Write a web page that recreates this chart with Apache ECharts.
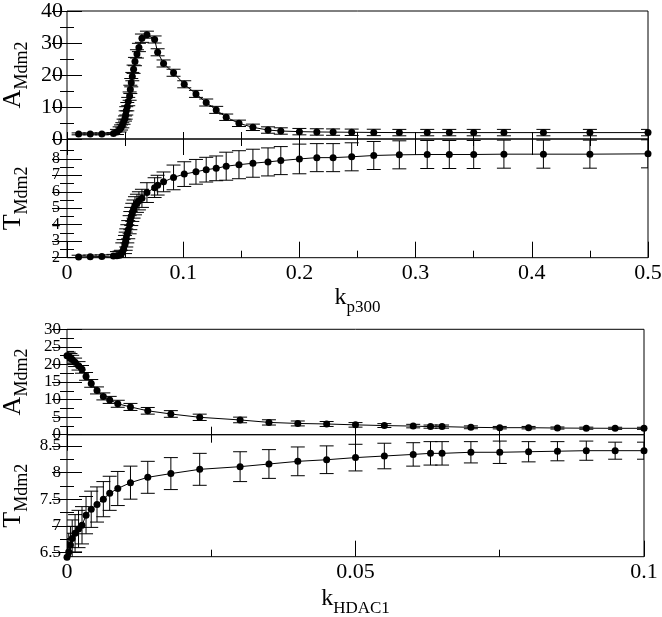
<!DOCTYPE html>
<html><head><meta charset="utf-8">
<script src="https://cdn.jsdelivr.net/npm/echarts@6/dist/echarts.min.js"></script>
<style>html,body{margin:0;padding:0;background:#fff}#c{width:662px;height:617px}</style>
</head><body><div id="c"></div>
<script>
// ---------- data: top pair (k_p300) ----------
const kP300 = [0.01,0.02,0.03,0.04,0.043,0.0453,0.0465,0.0476,0.0487,0.0499,0.0505,0.051,0.0519,0.0527,0.0539,0.0545,0.0553,0.0562,0.0573,0.0585,0.0602,0.0619,0.0645,0.0688,0.0754,0.078,0.0831,0.0917,0.1009,0.111,0.1198,0.1284,0.137,0.148,0.16,0.173,0.184,0.2,0.215,0.229,0.245,0.264,0.286,0.31,0.329,0.35,0.376,0.41,0.45,0.5];
const aMdm2P300 = [1.6,1.6,1.6,1.7,2.2,3.0,3.6,4.3,5.4,6.4,7.5,8.8,10.1,11.7,13.4,15.5,17.6,19.5,21.8,24.2,26.6,28.6,31.5,32.6,31.1,27.1,23.6,20.7,17.1,14.1,11.4,9.1,6.8,4.9,3.65,2.8,2.5,2.3,2.2,2.15,2.1,2.05,2.0,2.0,2.0,2.0,2.0,2.0,2.0,2.0];
const aMdm2P300Err = [0.3,0.3,0.3,0.3,0.8,0.8,0.8,0.8,0.8,0.8,1.3,1.3,1.3,1.3,1.3,1.3,1.3,1.3,1.3,1.3,1.3,1.3,1.3,1.1,1.1,1.1,1.1,1.1,1.1,1.1,1.1,1.1,1.0,1.0,1.0,1.0,1.0,1.0,1.0,1.0,1.0,1.0,1.0,1.0,1.0,1.0,1.0,1.0,1.0,1.0];
const tMdm2P300 = [2.05,2.06,2.07,2.1,2.12,2.15,2.2,2.35,2.55,2.8,3.0,3.2,3.45,3.7,4.0,4.25,4.5,4.75,4.95,5.15,5.3,5.45,5.6,5.95,6.25,6.4,6.6,6.87,7.07,7.21,7.34,7.42,7.55,7.64,7.73,7.81,7.89,7.99,8.07,8.07,8.12,8.2,8.24,8.26,8.26,8.26,8.28,8.28,8.28,8.3];
const tMdm2P300Err = [0.1,0.1,0.1,0.1,0.25,0.25,0.25,0.55,0.55,0.55,0.55,0.55,0.55,0.55,0.55,0.55,0.55,0.55,0.55,0.55,0.55,0.55,0.55,0.6,0.6,0.6,0.6,0.75,0.75,0.75,0.75,0.75,0.85,0.85,0.85,0.85,0.85,0.9,0.85,0.85,0.85,0.85,0.85,0.85,0.85,0.85,0.85,0.85,0.85,0.85];

// ---------- data: bottom pair (k_HDAC1) ----------
const kHDAC1 = [0,0.0003,0.0006,0.0009,0.0014,0.002,0.0026,0.0033,0.0042,0.0052,0.0063,0.0074,0.0088,0.011,0.014,0.018,0.023,0.03,0.035,0.04,0.045,0.05,0.055,0.06,0.063,0.065,0.07,0.075,0.08,0.085,0.09,0.095,0.1];
const aMdm2HDAC1 = [22.5,22.3,21.9,21.4,20.6,19.6,18.6,16.6,14.6,12.6,10.9,9.9,8.8,7.9,6.8,5.9,4.95,4.2,3.5,3.2,3.05,2.8,2.6,2.45,2.3,2.3,2.1,2.0,2.0,1.9,1.85,1.82,1.82];
const aMdm2HDAC1Err = [1.2,1.2,1.2,1.2,1.2,1.2,1.1,1.1,1.1,1.0,1.0,1.0,1.0,1.0,0.95,0.95,0.9,0.8,0.75,0.7,0.7,0.65,0.55,0.5,0.45,0.45,0.4,0.35,0.35,0.3,0.3,0.3,0.3];
const tMdm2HDAC1 = [6.41,6.51,6.64,6.76,6.86,6.94,7.01,7.2,7.31,7.4,7.5,7.61,7.7,7.81,7.91,7.98,8.06,8.11,8.16,8.21,8.24,8.28,8.31,8.34,8.36,8.36,8.38,8.38,8.39,8.4,8.41,8.41,8.41];
const tMdm2HDAC1Err = [0.35,0.35,0.35,0.35,0.35,0.35,0.35,0.35,0.34,0.33,0.33,0.32,0.32,0.31,0.3,0.3,0.3,0.28,0.27,0.27,0.26,0.25,0.24,0.22,0.22,0.22,0.2,0.21,0.19,0.18,0.18,0.16,0.16];

// ---------- tick values ----------
const xTicksP300 = [0,0.1,0.2,0.3,0.4,0.5];
const xMinorP300 = [0.05,0.15,0.25,0.35,0.45];
const xTicksHDAC1 = [0,0.05,0.1];
const xMinorHDAC1 = [0.025,0.075];
const yTicksA1 = [0,10,20,30,40];
const yMinorA1 = [5,15,25,35];
const yTicksT1 = [2,3,4,5,6,7,8];
const yMinorT1 = [2.5,3.5,4.5,5.5,6.5,7.5,8.5];
const yTicksA2 = [0,5,10,15,20,25,30];
const yMinorA2 = [2.5,7.5,12.5,17.5,22.5,27.5];
const yTicksT2 = [6.5,7,7.5,8,8.5];
const yMinorT2 = [6.75,7.25,7.75,8.25];

const SERIF = '"Liberation Serif", "Times New Roman", serif';
const INK = '#000';

const panels = [
  {grid:{left:67,top:11,width:581,height:128}, x:[0,0.5], y:[0,40], xt:xTicksP300, xm:xMinorP300, yt:yTicksA1, ym:yMinorA1,
   xMajLen:7, xMinLen:7, xLabels:false, yFont:22, yMargin:4, yName:'{a|A}{s|Mdm2}', xs:kP300, vs:aMdm2P300, es:aMdm2P300Err},
  {grid:{left:67,top:139,width:581,height:118.7}, x:[0,0.5], y:[2,9.2], xt:xTicksP300, xm:xMinorP300, yt:yTicksT1, ym:yMinorT1,
   xMajLen:16, xMinLen:7, xLabels:true, yFont:16, yMargin:7, yName:'{a|T}{s|Mdm2}', xName:'{k|k}{s|p300}', xGap:28, xs:kP300, vs:tMdm2P300, es:tMdm2P300Err},
  {grid:{left:67,top:329.3,width:577,height:105.4}, x:[0,0.1], y:[0,30], xt:xTicksHDAC1, xm:xMinorHDAC1, yt:yTicksA2, ym:yMinorA2,
   xMajLen:8, xMinLen:8, xLabels:false, yFont:17, yMargin:6, yName:'{a|A}{s|Mdm2}', xs:kHDAC1, vs:aMdm2HDAC1, es:aMdm2HDAC1Err},
  {grid:{left:67,top:434.7,width:577,height:122}, x:[0,0.1], y:[6.42,8.71], xt:xTicksHDAC1, xm:xMinorHDAC1, yt:yTicksT2, ym:yMinorT2,
   xMajLen:16, xMinLen:7, xLabels:true, yFont:17, yMargin:6, yName:'{a|T}{s|Mdm2}', xName:'{k|k}{s|HDAC1}', xGap:30, xs:kHDAC1, vs:tMdm2HDAC1, es:tMdm2HDAC1Err}
];

const tickStyle = {color:INK, width:1};
const grids = [], xAxes = [], yAxes = [], series = [];

function baseAxis(gi, pos, range){
  return {type:'value', gridIndex:gi, position:pos, min:range[0], max:range[1],
    axisLine:{show:false}, splitLine:{show:false}, minorTick:{show:false},
    axisLabel:{show:false}, nameMoveOverlap:false};
}

function errRender(params, api){
  const x = api.value(0), lo = api.value(1), hi = api.value(2);
  const p1 = api.coord([x, lo]), p2 = api.coord([x, hi]);
  const hw = 7;
  const st = {stroke:INK, lineWidth:1, fill:null};
  return {type:'group', children:[
    {type:'line', shape:{x1:p1[0],y1:p1[1],x2:p2[0],y2:p2[1]}, style:st},
    {type:'line', shape:{x1:p1[0]-hw,y1:p1[1],x2:p1[0]+hw,y2:p1[1]}, style:st},
    {type:'line', shape:{x1:p2[0]-hw,y1:p2[1],x2:p2[0]+hw,y2:p2[1]}, style:st}
  ]};
}

panels.forEach((p, gi) => {
  grids.push(Object.assign({show:true, borderColor:INK, borderWidth:1, backgroundColor:'transparent',
    containLabel:false, outerBoundsMode:'none'}, p.grid));
  const xb = baseAxis(gi, 'bottom', p.x);
  xb.axisTick = {show:true, inside:true, length:p.xMajLen, customValues:p.xt, lineStyle:tickStyle};
  if (p.xLabels) xb.axisLabel = {show:true, customValues:p.xt, fontFamily:SERIF, fontSize:22, color:INK, margin:5};
  if (p.xName) {
    xb.name = p.xName; xb.nameLocation = 'middle'; xb.nameGap = p.xGap;
    xb.nameTextStyle = {color:INK, fontFamily:SERIF, rich:{
      k:{fontFamily:SERIF, fontSize:24, lineHeight:24, verticalAlign:'top', color:INK},
      s:{fontFamily:SERIF, fontSize:17, lineHeight:17, verticalAlign:'top', padding:[13,0,0,0], color:INK}}};
  }
  const xbm = baseAxis(gi, 'bottom', p.x);
  xbm.axisTick = {show:true, inside:true, length:p.xMinLen, customValues:p.xm, lineStyle:tickStyle};
  const xt = baseAxis(gi, 'top', p.x);
  xt.axisTick = {show:true, inside:true, length:p.xMajLen, customValues:p.xt, lineStyle:tickStyle};
  const xtm = baseAxis(gi, 'top', p.x);
  xtm.axisTick = {show:true, inside:true, length:p.xMinLen, customValues:p.xm, lineStyle:tickStyle};
  const xBase = xAxes.length;
  xAxes.push(xb, xbm, xt, xtm);

  const yl = baseAxis(gi, 'left', p.y);
  yl.axisTick = {show:true, inside:true, length:15, customValues:p.yt, lineStyle:tickStyle};
  yl.axisLabel = {show:true, customValues:p.yt, fontFamily:SERIF, fontSize:p.yFont, color:INK, margin:p.yMargin};
  yl.name = p.yName; yl.nameLocation = 'middle'; yl.nameRotate = 90; yl.nameGap = 41;
  yl.nameTextStyle = {color:INK, fontFamily:SERIF, rich:{
    a:{fontFamily:SERIF, fontSize:26, lineHeight:26, verticalAlign:'top', color:INK},
    s:{fontFamily:SERIF, fontSize:18, lineHeight:18, verticalAlign:'top', padding:[13,0,0,0], color:INK}}};
  const ylm = baseAxis(gi, 'left', p.y);
  ylm.axisTick = {show:true, inside:true, length:7, customValues:p.ym, lineStyle:tickStyle};
  const yr = baseAxis(gi, 'right', p.y);
  yr.axisTick = {show:true, inside:true, length:15, customValues:p.yt, lineStyle:tickStyle};
  const yrm = baseAxis(gi, 'right', p.y);
  yrm.axisTick = {show:true, inside:true, length:7, customValues:p.ym, lineStyle:tickStyle};
  const yBase = yAxes.length;
  yAxes.push(yl, ylm, yr, yrm);

  series.push({
    type:'custom', xAxisIndex:xBase, yAxisIndex:yBase, renderItem:errRender, clip:true, silent:true,
    encode:{x:0, y:[1,2]},
    data:p.xs.map((k,i)=>[k, p.vs[i]-p.es[i], p.vs[i]+p.es[i]]), z:2
  });
  series.push({
    type:'line', xAxisIndex:xBase, yAxisIndex:yBase, clip:false, silent:true,
    data:p.xs.map((k,i)=>[k, p.vs[i]]),
    symbol:'circle', symbolSize:7, showAllSymbol:true,
    lineStyle:{color:INK, width:1}, itemStyle:{color:INK}, z:3
  });
});

const chart = echarts.init(document.getElementById('c'), null, {renderer:'canvas'});
chart.setOption({animation:false, backgroundColor:'#fff', grid:grids, xAxis:xAxes, yAxis:yAxes, series:series});
</script>
</body></html>
